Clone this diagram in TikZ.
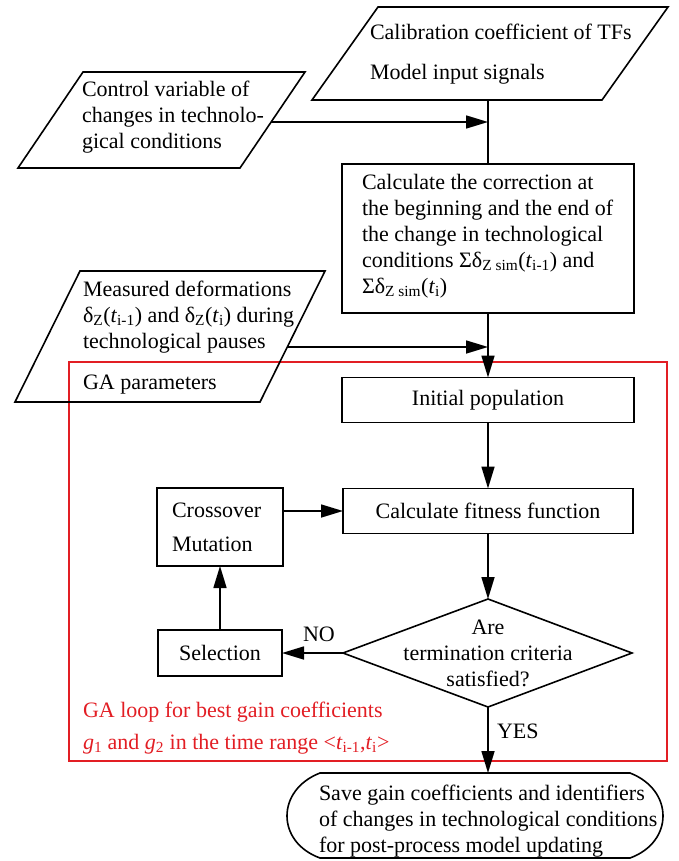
\documentclass[tikz,border=0pt]{standalone}
\usepackage{fontspec}
\setmainfont{Liberation Serif}
\usetikzlibrary{arrows.meta}
\definecolor{loopred}{RGB}{226,30,36}
\begin{document}
\begin{tikzpicture}[x=1pt,y=-1pt,
  every node/.style={font=\fontsize{22}{26}\selectfont, inner sep=0pt, outer sep=0pt},
  shp/.style={draw, line width=1.6pt, line join=miter},
  box/.style={draw, line width=1.6pt, inner sep=0pt},
  ln/.style={line width=1.6pt},
  arr/.style={line width=1.6pt, -{Triangle[length=22pt,width=13pt]}},
  txt/.style={anchor=north west, align=left},
  lbl/.style={anchor=base west},
]
\useasboundingbox (0,0) rectangle (678,861);

% red GA loop frame
\draw[loopred, line width=1.3pt] (69,362) rectangle (667,761);
\node[txt, text=loopred, font=\fontsize{22}{32}\selectfont] (galoop) at (83,702) {GA loop for best gain coefficients\\\textit{g}\textsubscript{1} and \textit{g}\textsubscript{2} in the time range <\textit{t}\textsubscript{i-1},\textit{t}\textsubscript{i}>};

% top input parallelogram
\coordinate (tp1) at (378,7);
\coordinate (tp2) at (668,7);
\coordinate (tp3) at (602,100);
\coordinate (tp4) at (312,100);
\draw[shp] (tp1) -- (tp2) -- (tp3) -- (tp4) -- cycle;
\coordinate (tpb) at (488,100);
\node[lbl] (tpa) at (370,40) {Calibration coefficient of TFs};
\node[lbl] (tpc) at (370,80) {Model input signals};

% control variable parallelogram
\coordinate (cp1) at (83,72);
\coordinate (cp2) at (305,72);
\coordinate (cp3) at (240,168);
\coordinate (cp4) at (18,168);
\draw[shp] (cp1) -- (cp2) -- (cp3) -- (cp4) -- cycle;
\node[txt] (cpt) at (82,81) {Control variable of\\changes in technolo-\\gical conditions};
\coordinate (cpr) at (271,122);

% calculation box
\node[box, minimum width=292pt, minimum height=149pt] (cb) at (488,238.5) {};
\node[txt] (cbt) at (362,174) {Calculate the correction at\\the beginning and the end of\\the change in technological\\conditions Σδ\textsubscript{Z sim}(\textit{t}\textsubscript{i-1}) and\\Σδ\textsubscript{Z sim}(\textit{t}\textsubscript{i})};

% measured deformations parallelogram
\coordinate (mp1) at (80,271);
\coordinate (mp2) at (325,271);
\coordinate (mp3) at (260,402);
\coordinate (mp4) at (15,402);
\draw[shp] (mp1) -- (mp2) -- (mp3) -- (mp4) -- cycle;
\node[txt] (mpt) at (83,281) {Measured deformations\\δ\textsubscript{Z}(\textit{t}\textsubscript{i-1}) and δ\textsubscript{Z}(\textit{t}\textsubscript{i}) during\\technological pauses};
\node[lbl] (gap) at (83,389) {GA parameters};
\coordinate (mpr) at (287,347);

% GA boxes
\node[box, minimum width=292pt, minimum height=45pt] (ip) at (488,400) {Initial population};
\node[box, minimum width=290pt, minimum height=45pt] (fb) at (488,511) {Calculate fitness function};
\node[box, minimum width=126pt, minimum height=78pt] (cm) at (220,527) {};
\node[lbl] (cmc) at (172,517) {Crossover};
\node[lbl] (cmm) at (172,551) {Mutation};
\node[box, minimum width=124pt, minimum height=46pt] (sb) at (220,653) {Selection};

% decision diamond
\coordinate (dl) at (343,653);
\coordinate (dt) at (488,599);
\coordinate (dr) at (632,653);
\coordinate (db) at (488,707);
\draw[shp] (dl) -- (dt) -- (dr) -- (db) -- cycle;
\node[align=center] (dtx) at (488,653) {Are\\termination criteria\\satisfied?};

% terminator
\coordinate (tt) at (488,773);
\draw[shp] (320,773) -- (630,773) .. controls (674,790) and (674,842) .. (630,858) -- (320,858) .. controls (276,842) and (276,790) .. (320,773) -- cycle;
\node[txt] (tmt) at (319,785) {Save gain coefficients and identifiers\\of changes in technological conditions\\for post-process model updating};

% connectors
\draw[ln] (tpb) -- (cb.north);
\draw[arr] (cpr) -- (cpr -| cb.north);
\draw[arr] (cb.south) -- (ip.north);
\draw[arr] (mpr) -- (mpr -| cb.south);
\draw[arr] (ip.south) -- (fb.north);
\draw[arr] (fb.south) -- (dt);
\draw[arr] (dl) -- (sb.east);
\node[lbl] (no) at (303,641) {NO};
\draw[arr] (sb.north) -- (cm.south);
\draw[arr] (fb.west -| cm.east) -- (fb.west);
\draw[arr] (db) -- (tt);
\node[lbl] (yes) at (497,738) {YES};
\end{tikzpicture}
\end{document}
